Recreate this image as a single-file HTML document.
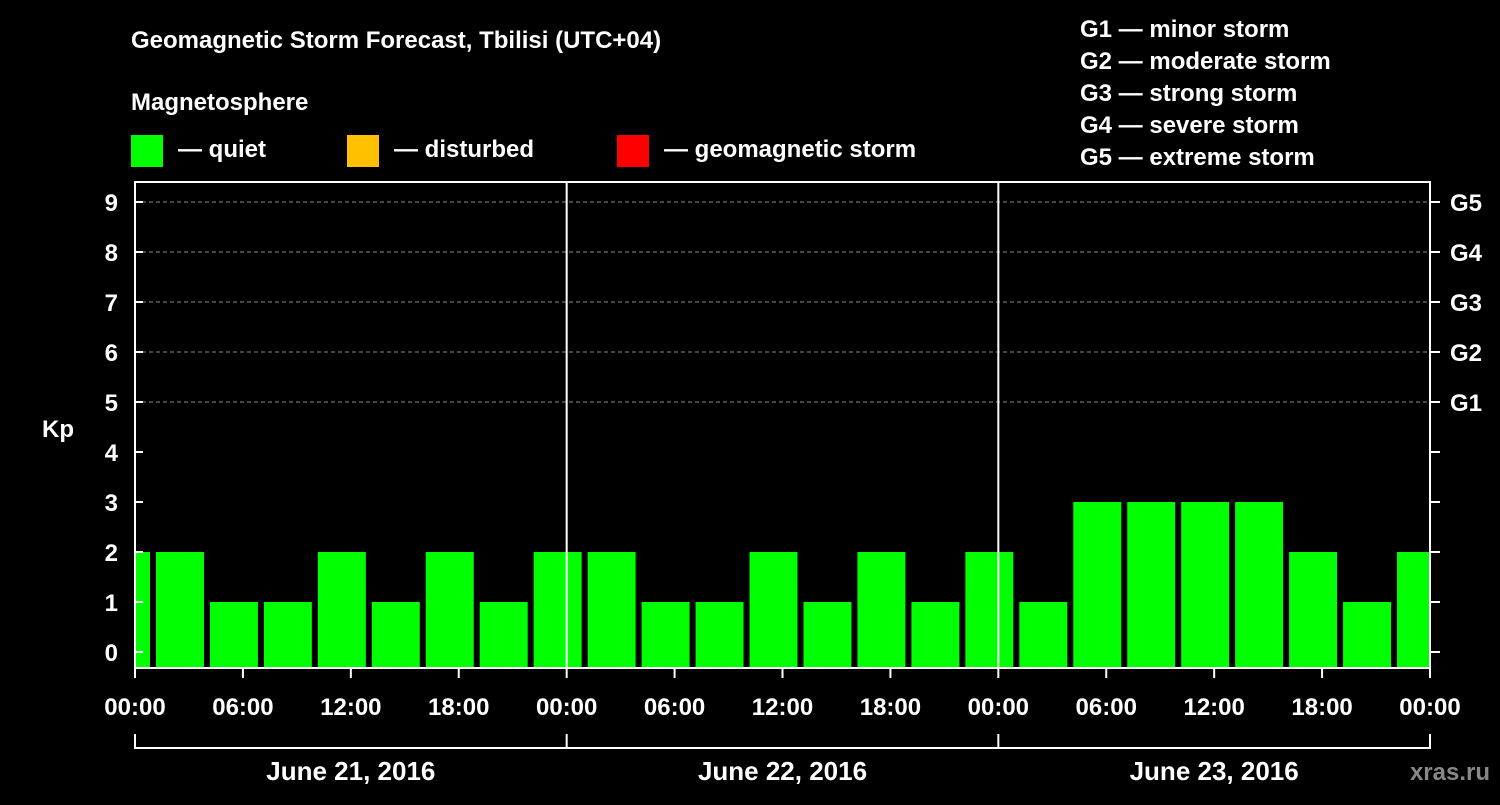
<!DOCTYPE html>
<html><head><meta charset="utf-8"><style>
body{margin:0;background:#000;width:1500px;height:800px;overflow:hidden}
svg text{font-family:"Liberation Sans",Arial,sans-serif;font-weight:bold;fill:#fff}
</style></head><body>
<svg id="chart" width="1500" height="800" xmlns="http://www.w3.org/2000/svg">
<rect width="1500" height="800" fill="#000"/>
<text x="131" y="48" font-size="24">Geomagnetic Storm Forecast, Tbilisi (UTC+04)</text>
<text x="131" y="110" font-size="24">Magnetosphere</text>
<g><rect x="131" y="135" width="32" height="32" fill="#00ff00"/><text x="178" y="157" font-size="24">— quiet</text></g>
<g><rect x="347" y="135" width="32" height="32" fill="#ffc000"/><text x="394" y="157" font-size="24">— disturbed</text></g>
<g><rect x="617" y="135" width="32" height="32" fill="#ff0000"/><text x="664" y="157" font-size="24">— geomagnetic storm</text></g>
<g font-size="24">
<text x="1080" y="37">G1 — minor storm</text><text x="1080" y="69">G2 — moderate storm</text><text x="1080" y="101">G3 — strong storm</text><text x="1080" y="133">G4 — severe storm</text><text x="1080" y="165">G5 — extreme storm</text>
</g>
<text x="42" y="437" font-size="24">Kp</text>
<text x="1490" y="780" font-size="24" text-anchor="end" fill="#888" style="fill:#888">xras.ru</text>
<g id="grid"></g><g id="bars"></g><g id="axes"></g>
</svg>
<script>
const kpValues=[2,2,1,1,2,1,2,1,2,2,1,1,2,1,2,1,2,1,3,3,3,3,2,1,2];
const barStartHours=[-2,1,4,7,10,13,16,19,22,25,28,31,34,37,40,43,46,49,52,55,58,61,64,67,70];
const yTicks=[0,1,2,3,4,5,6,7,8,9];
const gLabels=["G1","G2","G3","G4","G5"];
const gLevels=[5,6,7,8,9];
const xTickLabels=["00:00","06:00","12:00","18:00","00:00","06:00","12:00","18:00","00:00","06:00","12:00","18:00","00:00"];
const dayLabels=["June 21, 2016","June 22, 2016","June 23, 2016"];
const L=135,R=1430,T=182,B=668,NS="http://www.w3.org/2000/svg";
const xs=h=>L+h*(R-L)/72, ys=v=>652-v*50;
function mk(tag,attrs,parent,txt){const e=document.createElementNS(NS,tag);for(const k in attrs)e.setAttribute(k,attrs[k]);if(txt!==undefined)e.textContent=txt;parent.appendChild(e);return e;}
const grid=document.getElementById('grid'),bars=document.getElementById('bars'),axes=document.getElementById('axes');
gLevels.forEach((v,i)=>{const l=mk('line',{x1:L,x2:R,y1:ys(v),y2:ys(v),stroke:'#888','stroke-dasharray':'4,3','stroke-width':1},grid);


const t=mk('text',{x:1450,y:ys(v)+9,'font-size':24},axes,gLabels[i]);

});
kpValues.forEach((v,i)=>{let x1=Math.max(L,xs(barStartHours[i])+3),x2=Math.min(R-1,xs(barStartHours[i]+3)-3);
const c=v>=5?'#ff0000':(v>=4?'#ffc000':'#00ff00');
const r=mk('rect',{x:x1,y:ys(v),width:x2-x1,height:B-ys(v),fill:c},bars);

});
[1,2].forEach(d=>{const l=mk('line',{x1:xs(24*d),x2:xs(24*d),y1:T,y2:B,stroke:'#fff','stroke-width':2},axes);

});
const fr=mk('rect',{x:L,y:T,width:R-L,height:B-T,fill:'none',stroke:'#fff','stroke-width':2},axes);


yTicks.forEach(v=>{mk('line',{x1:L,x2:L+8,y1:ys(v),y2:ys(v),stroke:'#fff','stroke-width':2},axes);
mk('line',{x1:R,x2:R+10,y1:ys(v),y2:ys(v),stroke:'#fff','stroke-width':2},axes);
const t=mk('text',{x:118,y:ys(v)+9,'font-size':24,'text-anchor':'end'},axes,String(v));

});
xTickLabels.forEach((s,i)=>{const x=xs(i*6);mk('line',{x1:x,x2:x,y1:B,y2:B+10,stroke:'#fff','stroke-width':2},axes);
const t=mk('text',{x:x,y:715,'font-size':24,'text-anchor':'middle'},axes,s);

});
mk('line',{x1:L,x2:R,y1:748,y2:748,stroke:'#fff','stroke-width':2},axes);
[0,1,2,3].forEach(d=>mk('line',{x1:xs(24*d),x2:xs(24*d),y1:734,y2:749,stroke:'#fff','stroke-width':2},axes));
dayLabels.forEach((s,i)=>{const t=mk('text',{x:xs(24*i+12),y:780,'font-size':26,'text-anchor':'middle'},axes,s);

});
</script>
</body></html>
